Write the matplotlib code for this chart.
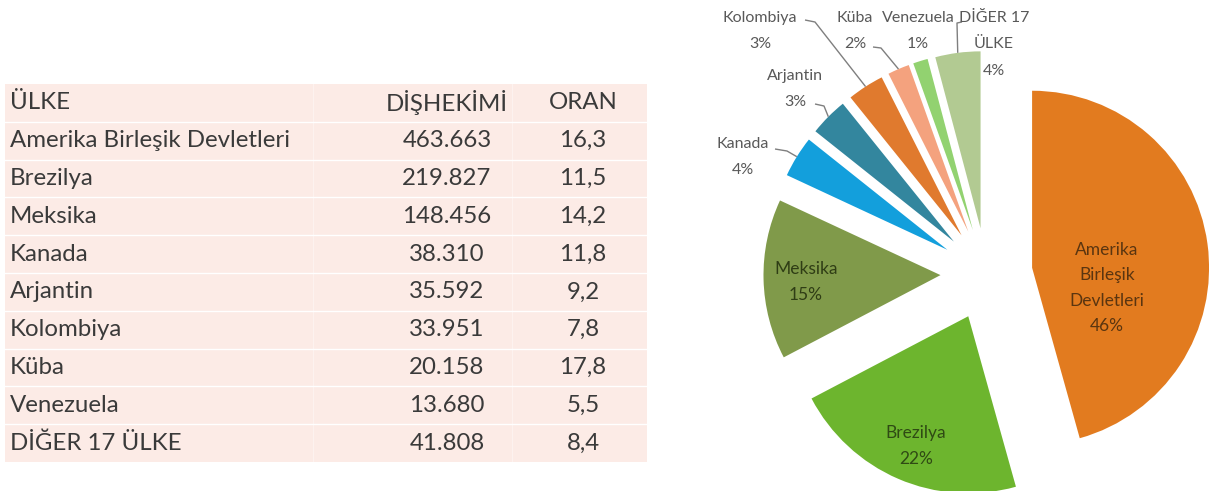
import numpy as np
import matplotlib
matplotlib.use("Agg")
import matplotlib.pyplot as plt
from matplotlib.patches import Rectangle
from matplotlib.lines import Line2D

# ---------------- data ----------------
countries = ["Amerika Birleşik Devletleri", "Brezilya", "Meksika", "Kanada",
             "Arjantin", "Kolombiya", "Küba", "Venezuela", "DİĞER 17 ÜLKE"]
dentists = [463663, 219827, 148456, 38310, 35592, 33951, 20158, 13680, 41808]
oran = [16.3, 11.5, 14.2, 11.8, 9.2, 7.8, 17.8, 5.5, 8.4]
headers = ["ÜLKE", "DİŞHEKİMİ", "ORAN"]
pie_names = ["Amerika\nBirleşik\nDevletleri", "Brezilya", "Meksika", "Kanada",
             "Arjantin", "Kolombiya", "Küba", "Venezuela", "DİĞER 17\nÜLKE"]
pct_labels = [46, 22, 15, 4, 3, 3, 2, 1, 4]
colors = ["#E27B1F", "#6DB52E", "#809A4A", "#139FDC", "#33869E",
          "#E07A2E", "#F4A27E", "#92D270", "#B2CA92"]

W, H = 1209, 491
plt.rcParams['font.family'] = ['Lato', 'DejaVu Sans']
fig = plt.figure(figsize=(W / 100, H / 100), dpi=100)
fig.patch.set_facecolor("white")

def fx(px):
    return px / W

def fy(py):
    return 1 - py / H

# ---------------- table ----------------
top, bottom, left, right = 84, 462, 5, 647
fig.patches.append(Rectangle((fx(left), fy(bottom)), fx(right) - fx(left),
                             fy(top) - fy(bottom), transform=fig.transFigure,
                             facecolor="#FCEBE6", edgecolor="none", zorder=0))
nrows = len(countries) + 1
rh = (bottom - top) / nrows
for i in range(1, nrows):
    yy = fy(top + i * rh)
    fig.lines.append(Line2D([fx(left), fx(right)], [yy, yy], transform=fig.transFigure,
                            color="white", lw=1.0, zorder=1))
for xv in (313, 512):
    fig.lines.append(Line2D([fx(xv), fx(xv)], [fy(top), fy(bottom)], transform=fig.transFigure,
                            color="white", lw=0.8, alpha=0.4, zorder=1))

tcol = "#3A3A3A"
tfs = 17.3
col_x = [10, 447, 583]
for j, h in enumerate(headers):
    fig.text(fx(col_x[j]), fy(top + rh / 2), h, ha="left" if j == 0 else "center",
             va="center", fontsize=tfs, color=tcol)
for i, (c, d, o) in enumerate(zip(countries, dentists, oran)):
    yc = fy(top + (i + 1.5) * rh)
    fig.text(fx(col_x[0]), yc, c, ha="left", va="center", fontsize=tfs, color=tcol)
    fig.text(fx(col_x[1]), yc, f"{d:,}".replace(",", "."), ha="center", va="center",
             fontsize=tfs, color=tcol)
    fig.text(fx(col_x[2]), yc, f"{o:.1f}".replace(".", ","), ha="center", va="center",
             fontsize=tfs, color=tcol)

# ---------------- pie ----------------
ax_left = 700
ax = fig.add_axes([fx(ax_left), 0, 1 - fx(ax_left), 1])
R = 177.0
cx, cy = 986.5, 274.0
wedges, _ = ax.pie(dentists, colors=colors, startangle=90, counterclock=False,
                   explode=[0.26] * len(dentists), radius=1,
                   wedgeprops=dict(linewidth=0))
ax.set_aspect("auto")
ax.set_xlim((ax_left - cx) / R, (W - cx) / R)
ax.set_ylim(-(H - cy) / R, cy / R)
ax.axis("off")

def d(px, py):
    return (px - cx) / R, (cy - py) / R

def lines_text(px, py, lines, step, color, fs=12):
    n = len(lines)
    for k, s in enumerate(lines):
        yy = py + (k - (n - 1) / 2) * step
        ax.text(*d(px, yy), s, ha="center", va="center", fontsize=fs, color=color)

inside = {0: ((1107, 288), "#5A3510"), 1: ((916, 446), "#2F4A14"), 2: ((806, 282), "#2F3D15")}
for i, ((px, py), col) in inside.items():
    lines_text(px, py, pie_names[i].split("\n") + [f"{pct_labels[i]}%"], 25.5, col, fs=12.5)

outside = {3: (743, 157), 4: (795, 89), 5: (760, 31), 6: (855, 31), 7: (918, 31), 8: (994, 44)}
gray = "#595959"
for i, (px, py) in outside.items():
    lines_text(px, py, pie_names[i].split("\n") + [f"{pct_labels[i]}%"], 26.5, gray, fs=11.5)

# leader lines: from label to mid-point of each wedge's outer arc
leader_start = {3: [(775, 149), (787, 151)], 4: [(815, 104), (824, 106)],
                5: [(805, 20), (815, 22)], 6: [(873, 47), (881, 48)],
                8: [(962, 22), (957, 23)]}
for i, pts in leader_start.items():
    w = wedges[i]
    mid = np.deg2rad((w.theta1 + w.theta2) / 2)
    ex = w.center[0] + w.r * np.cos(mid)
    ey = w.center[1] + w.r * np.sin(mid)
    xs = [d(*p)[0] for p in pts] + [ex]
    ys = [d(*p)[1] for p in pts] + [ey]
    ax.plot(xs, ys, color="#7F7F7F", lw=1.0, solid_capstyle="butt")

fig.savefig("out.png", dpi=100, facecolor="white")
